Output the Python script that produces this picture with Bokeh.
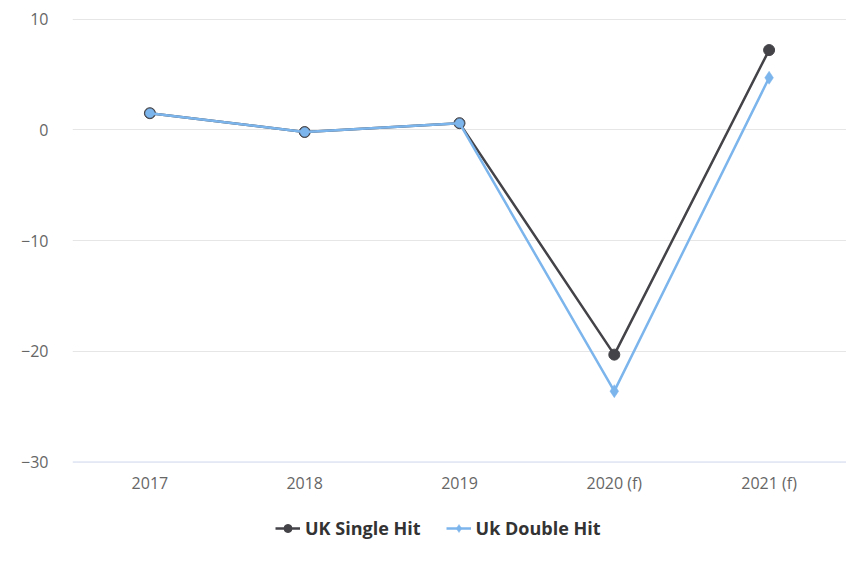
from bokeh.plotting import figure
from bokeh.models import FactorRange, Range1d, Legend, LegendItem, FixedTicker, CustomJSTickFormatter, Span, ColumnDataSource
from bokeh.core.properties import value
from bokeh.embed import file_html
from bokeh.resources import INLINE

categories = ["2017", "2018", "2019", "2020 (f)", "2021 (f)"]
single_hit = [1.5, -0.2, 0.6, -20.3, 7.2]
double_hit = [1.5, -0.2, 0.6, -23.6, 4.7]
y_ticks = [-30, -20, -10, 0, 10]
y_min, y_max = -30, 10

FONT = "Open Sans"

# frame spans page y 18..565; 10 units = 110.75 px
px_per_unit = 11.075
top = y_max + 0.05
bottom = top - 547 / px_per_unit

p = figure(width=846, height=565, x_range=FactorRange(*categories, range_padding=0),
           y_range=Range1d(bottom, top), output_backend="svg", toolbar_location=None,
           min_border_left=72, min_border_right=0, min_border_top=18, min_border_bottom=0)
p.outline_line_color = None
p.background_fill_color = "white"
p.border_fill_color = "white"

# y axis
p.yaxis.ticker = FixedTicker(ticks=y_ticks)
p.yaxis.formatter = CustomJSTickFormatter(code="return tick < 0 ? '\u2212' + Math.abs(tick) : String(tick);")
p.yaxis.axis_line_color = None
p.yaxis.major_tick_line_color = None
p.yaxis.minor_tick_line_color = None
p.yaxis.major_label_text_font = FONT
p.yaxis.major_label_text_font_size = "16px"
p.yaxis.major_label_text_color = "#666666"
p.yaxis.major_label_standoff = 18

# x axis drawn inside the frame at y_min
p.xaxis.visible = False
p.xgrid.grid_line_color = None
p.ygrid.grid_line_color = "#e6e6e6"
p.ygrid.ticker = FixedTicker(ticks=[t for t in y_ticks if t != y_min])
p.add_layout(Span(location=y_min, dimension="width", line_color="#ccd6eb", line_width=1))
p.text(x=categories, y=[y_min] * len(categories), text=categories, y_offset=21,
       text_align="center", text_baseline="middle", text_font=value(FONT),
       text_font_size="16px", text_color="#666666")

dark = "#434348"
blue = "#7cb5ec"

# forecast points of the second series use diamonds, actuals use circles
double_src = ColumnDataSource(dict(
    x=categories, y=double_hit,
    marker=["diamond" if "(f)" in c else "circle" for c in categories],
    size=[13 if "(f)" in c else 9 for c in categories]))

l1 = p.line(categories, single_hit, line_color=dark, line_width=2.5)
m1 = p.scatter(categories, single_hit, marker="circle", size=11, fill_color=dark, line_color=dark)
l2 = p.line(categories, double_hit, line_color=blue, line_width=2.5)
m2 = p.scatter("x", "y", source=double_src, marker="marker", size="size",
               fill_color=blue, line_color=blue, line_width=0.5)

legend = Legend(items=[LegendItem(label="UK Single Hit", renderers=[l1, m1]),
                       LegendItem(label="Uk Double Hit", renderers=[l2, m2], index=3)],
                orientation="horizontal", location=(203, 25),
                label_text_font=FONT, label_text_font_size="18px", label_text_font_style="bold",
                label_text_color="#333333", glyph_width=25, glyph_height=20,
                label_standoff=5, spacing=25, border_line_color=None,
                background_fill_alpha=0, margin=0, padding=0)
p.add_layout(legend, "center")

open("out.html", "w").write(file_html(p, INLINE))
